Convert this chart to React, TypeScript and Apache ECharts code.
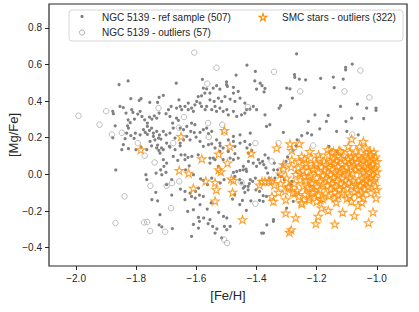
import React, { useEffect, useRef } from "react";
import * as echarts from "echarts";

const xTicks = [-2.0, -1.8, -1.6, -1.4, -1.2, -1.0];
const yTicks = [-0.4, -0.2, 0.0, 0.2, 0.4, 0.6, 0.8];
const legendLabels = [
  "NGC 5139 - ref sample (507)",
  "NGC 5139 - outliers (57)",
  "SMC stars - outliers (322)",
];
const xName = "[Fe/H]";
const yName = "[Mg/Fe]";

const refSample: number[][] = [
  [-1.857,0.49],[-1.827,0.51],[-1.667,0.498],[-1.432,0.596],[-1.404,0.562],[-1.468,0.542],[-1.5,0.505],[-1.5,0.49],[-1.58,0.518],[-1.406,0.51],[-1.388,0.498],[-1.382,0.484],[-1.372,0.469],[-1.375,0.45],[-1.4,0.466],[-1.267,0.658],[-1.274,0.544],[-1.273,0.529],[-1.258,0.52],[-1.237,0.516],[-1.187,0.524],[-1.145,0.531],[-1.112,0.52],[-1.104,0.584],[-1.104,0.571],[-1.082,0.602],[-1.142,0.473],[-1.3,0.471],[-1.289,0.467],[-1.281,0.416],[-1.32,0.375],[-1.325,0.362],[-1.121,0.371],[-1.065,0.384],[-1.034,0.362],[-1.003,0.362],[-1.003,0.349],[-1.044,0.305],[-1.084,0.307],[-1.162,0.322],[-1.206,0.325],[-1.228,0.289],[-1.19,0.249],[-1.372,0.325],[-1.367,0.262],[-1.311,0.229],[-1.25,0.211],[-1.231,0.225],[-1.265,0.189],[-1.1,0.235],[-1.062,0.216],
  [-1.818,0.413],[-1.79,0.404],[-1.784,0.413],[-1.755,0.393],[-1.724,0.42],[-1.71,0.431],[-1.658,0.407],[-1.684,0.371],[-1.729,0.393],
  [-1.854,0.371],[-1.843,0.365],[-1.878,0.344],[-1.876,0.331],[-1.834,0.335],[-1.815,0.353],[-1.811,0.338],[-1.795,0.329],[-1.787,0.344],
  [-1.806,0.302],[-1.827,0.298],[-1.82,0.282],[-1.829,0.265],[-1.781,0.316],[-1.772,0.298],[-1.763,0.28],[-1.756,0.313],[-1.748,0.302],[-1.74,0.32],
  [-1.724,0.335],[-1.732,0.307],[-1.701,0.331],[-1.693,0.353],[-1.688,0.316],[-1.666,0.307],[-1.66,0.295],[-1.679,0.28],[-1.677,0.253],
  [-1.763,0.262],[-1.756,0.24],[-1.749,0.253],[-1.776,0.244],[-1.77,0.229],[-1.763,0.218],[-1.743,0.225],[-1.732,0.235],[-1.723,0.215],
  [-1.71,0.235],[-1.701,0.216],[-1.718,0.193],[-1.738,0.189],[-1.754,0.18],[-1.749,0.156],[-1.729,0.16],[-1.716,0.144],[-1.725,0.131],
  [-1.784,0.149],[-1.801,0.135],[-1.807,0.196],[-1.826,0.253],[-1.832,0.225],[-1.837,0.195],[-1.818,0.211],[-1.843,0.162],[-1.848,0.135],
  [-1.699,0.171],[-1.688,0.149],[-1.671,0.135],[-1.654,0.156],[-1.651,0.107],[-1.677,0.098],[-1.662,0.076],[-1.638,0.08],[-1.628,0.093],
  [-1.624,0.047],[-1.636,0.025],[-1.71,0.08],[-1.699,0.062],[-1.708,0.044],[-1.701,0.011],[-1.615,0.098],[-1.594,0.107],
  [-1.654,0.253],[-1.643,0.244],[-1.632,0.262],[-1.616,0.28],[-1.605,0.271],[-1.619,0.235],[-1.607,0.228],[-1.632,0.207],[-1.621,0.189],[-1.601,0.204],[-1.588,0.229],[-1.577,0.244],[-1.566,0.253],[-1.56,0.222],[-1.549,0.235],
  [-1.599,0.398],[-1.588,0.389],[-1.594,0.425],[-1.583,0.429],[-1.572,0.444],[-1.577,0.471],[-1.566,0.467],[-1.555,0.444],[-1.544,0.471],[-1.533,0.484],[-1.522,0.465],[-1.497,0.48],[-1.477,0.475],
  [-1.616,0.362],[-1.627,0.353],[-1.61,0.344],[-1.605,0.38],[-1.583,0.371],[-1.571,0.353],[-1.566,0.371],[-1.549,0.353],[-1.538,0.371],[-1.533,0.344],[-1.522,0.362],[-1.511,0.344],[-1.499,0.353],[-1.494,0.325],[-1.477,0.344],[-1.466,0.316],[-1.45,0.325],[-1.433,0.353],[-1.439,0.335],[-1.422,0.356],[-1.411,0.371],[-1.4,0.353],
  [-1.666,0.362],[-1.654,0.371],[-1.649,0.353],[-1.638,0.371],[-1.627,0.389],
  [-1.555,0.407],[-1.541,0.398],[-1.527,0.416],[-1.516,0.398],[-1.505,0.425],[-1.488,0.411],[-1.472,0.398],[-1.455,0.416],[-1.439,0.389],[-1.477,0.444],[-1.461,0.453],
  [-1.671,0.198],[-1.643,0.189],[-1.654,0.171],[-1.588,0.18],[-1.577,0.153],[-1.56,0.162],[-1.533,0.189],[-1.522,0.171],[-1.511,0.144],[-1.522,0.126],
  [-1.494,0.189],[-1.477,0.18],[-1.472,0.153],[-1.455,0.171],[-1.439,0.18],[-1.422,0.162],
  [-1.555,0.089],[-1.538,0.08],[-1.527,0.044],[-1.477,0.08],[-1.461,0.089],[-1.444,0.044],[-1.433,0.016],[-1.427,0.071],[-1.411,0.062],[-1.4,0.044],
  [-1.45,-0.047],[-1.439,-0.065],[-1.424,-0.051],[-1.413,-0.038],
  [-1.735,-0.098],[-1.748,-0.138],[-1.729,-0.144],[-1.721,-0.22],[-1.682,-0.113],[-1.638,-0.093],[-1.653,-0.08],[-1.621,-0.102],[-1.616,-0.12],[-1.638,-0.138],[-1.604,-0.129],[-1.59,-0.113],[-1.577,-0.12],[-1.629,-0.202],[-1.61,-0.193],[-1.588,-0.165],[-1.564,-0.189],[-1.551,-0.156],[-1.526,-0.207],[-1.593,-0.235],[-1.576,-0.238],[-1.59,-0.256],[-1.555,-0.247],[-1.561,-0.269],[-1.61,-0.273],[-1.593,-0.293],[-1.546,-0.284],[-1.532,-0.298],
  [-1.507,-0.284],[-1.499,-0.302],[-1.488,-0.284],[-1.51,-0.229],[-1.499,-0.238],[-1.538,-0.32],[-1.516,-0.347],[-1.616,-0.338],[-1.724,-0.275],[-1.715,-0.287],[-1.68,-0.296],[-1.48,-0.135],[-1.473,-0.111],[-1.456,-0.165],[-1.447,-0.142],[-1.434,-0.196],[-1.419,-0.144],[-1.39,-0.142],[-1.378,-0.116],[-1.402,-0.084],[-1.39,-0.093],[-1.366,-0.275],[-1.344,-0.247],[-1.377,-0.32],[-1.444,-0.075],[-1.428,-0.084],[-1.439,-0.098],
  [-1.376,0.053],[-1.369,0.035],[-1.363,0.007],[-1.358,-0.02],[-1.352,-0.038],[-1.341,0.062],[-1.33,0.025],[-1.319,-0.011],[-1.313,0.053],[-1.302,0.071],[-1.297,0.095],[-1.28,0.131],[-1.269,0.156],[-1.308,-0.029],[-1.286,-0.056],
  [-1.477,0.011],[-1.466,0.016],[-1.455,0.022],[-1.444,0.025],[-1.435,0.029],[-1.421,-0.029],[-1.404,-0.02],[-1.456,-0.029],[-1.428,-0.065],[-1.577,-0.033],[-1.586,-0.025],[-1.549,-0.02],[-1.521,-0.047],[-1.508,-0.029],[-1.563,-0.056],[-1.593,-0.075],[-1.603,-0.093],[-1.682,-0.029],[-1.699,-0.056],[-1.734,0.007],[-1.715,-0.002],[-1.719,0.025],[-1.768,-0.002],[-1.765,-0.029],
  [-1.638,0.107],[-1.765,0.135],[-1.732,0.144],[-1.721,0.116],[-1.71,0.135],[-1.69,0.153],
  [-1.803,0.225],[-1.787,0.216],[-1.743,0.207],[-1.726,0.198],[-1.688,0.225],
  [-1.549,0.167],[-1.538,0.144],[-1.521,0.156],[-1.555,0.062],[-1.544,0.089],[-1.511,0.08],[-1.488,0.089],[-1.472,-0.011],[-1.421,0.225],[-1.432,0.144],[-1.427,0.116],[-1.416,0.131],[-1.394,0.08],[-1.389,0.062],[-1.38,0.071],[-1.477,0.207],[-1.455,0.216],[-1.494,0.125],[-1.472,0.113],[-1.61,-0.002],
  [-1.356,0.271],[-1.217,0.216],[-1.168,0.289],[-1.134,0.235],[-1.103,0.289],[-1.159,0.153],[-1.132,0.125],[-1.372,0.107],[-1.361,0.089],[-1.343,0.025],[-1.328,-0.002],[-1.339,-0.02],[-1.367,-0.12],[-1.378,-0.147],[-1.3,-0.184],[-1.278,-0.147],[-1.344,-0.256],[-1.383,-0.32],[-1.283,-0.038],
  [-1.868,0.024],[-1.826,0.14],[-1.878,0.2],[-1.87,0.265],
];

const outliers: number[][] = [
  [-1.992,0.32],[-1.922,0.271],[-1.9,0.345],[-1.881,0.218],[-1.848,0.227],[-1.876,0.811],[-1.795,0.171],[-1.772,0.102],[-1.739,0.065],[-1.753,-0.062],[-1.839,-0.12],[-1.869,-0.265],[-1.774,-0.262],[-1.764,-0.26],[-1.754,-0.309],[-1.704,-0.313],[-1.699,-0.062],[-1.681,-0.047],[-1.684,-0.184],[-1.657,-0.038],[-1.677,0.171],[-1.726,0.362],[-1.607,0.665],[-1.533,0.582],[-1.564,0.495],[-1.561,0.28],[-1.559,0.204],[-1.641,0.313],[-1.507,0.229],[-1.514,0.271],[-1.429,0.367],[-1.404,0.171],[-1.45,-0.044],[-1.404,-0.16],[-1.498,-0.375],[-1.508,-0.356],[-1.342,0.56],[-1.255,0.453],[-1.212,0.158],[-1.327,0.171],[-1.35,0.071],[-1.108,0.453],[-1.055,0.567],[-1.025,0.42],[-1.082,0.218],[-1.658,0.255],
];

const smcStars: number[][] = [
  [-1.785,0.135],[-1.651,0.207],[-1.507,0.24],[-1.582,0.085],[-1.657,0.022],[-1.626,0.007],[-1.61,-0.075],[-1.569,-0.036],[-1.538,-0.044],[-1.534,-0.084],[-1.538,-0.145],[-1.526,0.025],[-1.519,0.015],[-1.526,0.111],[-1.497,0.062],[-1.489,0.153],[-1.484,-0.025],[-1.477,-0.033],[-1.48,-0.098],[-1.447,-0.247],[-1.418,0.115],[-1.39,-0.058],[-1.382,-0.038],[-1.372,-0.038],[-1.359,-0.036],[-1.35,-0.038],[-1.341,-0.058],[-1.333,0.144],[-1.349,-0.12],[-1.344,-0.147],[-1.327,-0.098],[-1.32,0.002],[-1.311,0.053],[-1.303,-0.138],[-1.303,-0.211],[-1.292,-0.065],[-1.289,0.167],[-1.283,0.131],[-1.283,0.08],[-1.291,-0.316],[-1.285,-0.302],[-1.27,-0.236],[-1.258,0.167],[-1.25,0.098],[-1.261,0.035],[-1.256,0.007],[-1.272,-0.102],[-1.25,-0.153],[-1.223,0.125],[-1.228,-0.011],[-1.217,-0.047],[-1.203,-0.269],[-1.195,-0.229],[-1.187,-0.138],[-1.184,-0.184],[-1.194,0.107],[-1.162,-0.196],[-1.164,0.135],[-1.14,-0.271],[-1.126,0.131],[-1.114,-0.207],[-1.084,0.193],[-1.075,-0.225],[-1.063,-0.171],[-1.045,0.18],[-1.028,-0.264],[-1.013,-0.205],[-1.003,-0.129],[-1.0,-0.084],[-1.023,0.125],[-1.036,0.144],[-1.058,0.153],[-1.095,0.153],[-1.145,0.125],[-1.214,0.031],[-1.203,0.062],[-1.241,0.084],[-1.233,0.044],
  [-1.15,0.118],[-1.12,0.125],[-1.09,0.12],[-1.07,0.128],[-1.035,0.117],[-1.01,0.122],
  [-1.16,0.102],[-1.13,0.098],[-1.11,0.105],[-1.085,0.097],[-1.06,0.103],[-1.04,0.099],[-1.02,0.108],[-1.005,0.095],
  [-1.19,0.088],[-1.145,0.083],[-1.12,0.087],[-1.095,0.082],[-1.07,0.089],[-1.05,0.084],[-1.03,0.086],[-1.01,0.081],
  [-1.175,0.072],[-1.155,0.068],[-1.135,0.074],[-1.105,0.069],[-1.08,0.071],[-1.065,0.066],[-1.045,0.073],[-1.025,0.068],[-1.0,0.07],
  [-1.2,0.057],[-1.17,0.053],[-1.14,0.058],[-1.115,0.054],[-1.09,0.056],[-1.075,0.052],[-1.035,0.058],[-1.015,0.055],
  [-1.185,0.041],[-1.16,0.038],[-1.13,0.043],[-1.1,0.039],[-1.085,0.042],[-1.06,0.037],[-1.04,0.044],[-1.02,0.04],[-1.005,0.036],
  [-1.21,0.027],[-1.175,0.023],[-1.15,0.028],[-1.12,0.024],[-1.11,0.021],[-1.07,0.026],[-1.05,0.022],[-1.03,0.029],[-1.01,0.025],
  [-1.195,0.012],[-1.165,0.008],[-1.14,0.013],[-1.125,0.009],[-1.095,0.011],[-1.08,0.006],[-1.045,0.012],[-1.025,0.008],[-1.0,0.014],
  [-1.22,-0.004],[-1.18,-0.007],[-1.155,-0.002],[-1.13,-0.006],[-1.1,-0.003],[-1.035,-0.008],[-1.015,-0.004],
  [-1.2,-0.018],[-1.17,-0.022],[-1.145,-0.017],[-1.115,-0.021],[-1.09,-0.019],[-1.05,-0.023],[-1.02,-0.016],[-1.005,-0.021],
  [-1.235,-0.033],[-1.19,-0.037],[-1.16,-0.032],[-1.135,-0.038],[-1.105,-0.034],[-1.08,-0.036],[-1.06,-0.031],[-1.035,-0.039],[-1.01,-0.035],
  [-1.215,-0.048],[-1.18,-0.053],[-1.15,-0.049],[-1.12,-0.052],[-1.095,-0.047],[-1.07,-0.054],[-1.045,-0.05],[-1.025,-0.046],
  [-1.245,-0.063],[-1.2,-0.067],[-1.165,-0.062],[-1.14,-0.068],[-1.11,-0.064],[-1.085,-0.066],[-1.055,-0.061],[-1.03,-0.069],[-1.005,-0.064],
  [-1.225,-0.078],[-1.19,-0.083],[-1.155,-0.079],[-1.125,-0.082],[-1.1,-0.077],[-1.065,-0.084],[-1.04,-0.08],
  [-1.21,-0.098],[-1.17,-0.103],[-1.14,-0.099],[-1.115,-0.104],[-1.075,-0.097],[-1.05,-0.102],[-1.02,-0.1],
  [-1.195,-0.113],[-1.16,-0.118],[-1.13,-0.114],[-1.09,-0.117],[-1.06,-0.112],
  [-1.225,-0.128],[-1.18,-0.133],[-1.14,-0.129],[-1.1,-0.132],[-1.045,-0.127],
  [-1.2,-0.148],[-1.135,-0.152],[-1.085,-0.147],[-1.05,-0.153],
  [-1.3,-0.02],[-1.285,0.04],[-1.275,-0.05],[-1.265,-0.09],[-1.255,-0.03],[-1.245,0.02],[-1.24,-0.11],[-1.23,-0.07],[-1.26,-0.12],[-1.28,-0.1],[-1.295,-0.07],[-1.235,0.06],[-1.25,-0.16],[-1.225,-0.14],[-1.215,-0.1],[-1.31,0.03],[-1.32,-0.05],[-1.305,-0.09],[-1.27,0.0],[-1.26,0.07],[-1.24,-0.01],[-1.22,0.09],
];

const STAR_SYMBOL =
  "path://M50 0L61.23 34.55L97.55 34.55L68.16 55.9L79.39 90.45L50 69.1L20.61 90.45L31.84 55.9L2.45 34.55L38.77 34.55Z";
const LEGEND_STAR =
  "M4 0L4.9 2.76L7.8 2.76L5.45 4.47L6.35 7.24L4 5.53L1.65 7.24L2.55 4.47L0.2 2.76L3.1 2.76Z";

echarts.graphic.registerShape("legendStar", echarts.graphic.extendPath(LEGEND_STAR, {}));

const FONT = '"Liberation Sans", Arial, Helvetica, sans-serif';
const INK = "#262626";
const ORANGE = "#ff8c00";
const fmt = (v: number) => v.toFixed(1).replace("-", "\u2212");

export default function App() {
  const ref = useRef<HTMLDivElement>(null);
  useEffect(() => {
    if (!ref.current) return;
    const chart = echarts.init(ref.current, null, { renderer: "svg" });
    const legendText = (text: string, x: number, y: number) => ({
      type: "text",
      z: 101,
      style: { text, x, y, fill: INK, font: `10px ${FONT}`, verticalAlign: "middle", align: "left" },
    });
    chart.setOption({
      animation: false,
      backgroundColor: "#ffffff",
      grid: {
        left: 49,
        right: 12,
        top: 4,
        bottom: 46,
        show: true,
        borderColor: INK,
        borderWidth: 1.2,
        backgroundColor: "#ffffff",
        containLabel: false,
        outerBoundsMode: "none",
      },
      xAxis: {
        type: "value",
        min: -2.09,
        max: -0.9,
        name: xName,
        nameLocation: "middle",
        nameGap: 23,
        nameMoveOverlap: false,
        nameTextStyle: { fontSize: 13, color: INK, fontFamily: FONT },
        axisLine: { show: false, onZero: false },
        splitLine: { show: false },
        axisTick: { show: true, length: 4, lineStyle: { color: INK, width: 1 }, customValues: xTicks },
        axisLabel: { color: INK, fontSize: 10, fontFamily: FONT, margin: 7, customValues: xTicks, formatter: fmt },
      },
      yAxis: {
        type: "value",
        min: -0.5,
        max: 0.93,
        name: yName,
        nameLocation: "middle",
        nameGap: 29,
        nameMoveOverlap: false,
        nameTextStyle: { fontSize: 13, color: INK, fontFamily: FONT },
        axisLine: { show: false, onZero: false },
        splitLine: { show: false },
        axisTick: { show: true, length: 4, lineStyle: { color: INK, width: 1 }, customValues: yTicks },
        axisLabel: { color: INK, fontSize: 10, fontFamily: FONT, margin: 7, customValues: yTicks, formatter: fmt },
      },
      series: [
        {
          name: legendLabels[0],
          type: "scatter",
          silent: true,
          data: refSample,
          symbol: "circle",
          symbolSize: 3.2,
          itemStyle: { color: "#808080", opacity: 1 },
          z: 2,
        },
        {
          name: legendLabels[1],
          type: "scatter",
          silent: true,
          data: outliers,
          symbol: "circle",
          symbolSize: 5.5,
          itemStyle: { color: "rgba(0,0,0,0)", borderColor: "#a3a3a3", borderWidth: 0.9 },
          z: 3,
        },
        {
          name: legendLabels[2],
          type: "scatter",
          silent: true,
          data: smcStars,
          symbol: STAR_SYMBOL,
          symbolSize: [8.4, 8],
          itemStyle: { color: "rgba(255,255,255,0.35)", borderColor: ORANGE, borderWidth: 1.1 },
          z: 4,
        },
      ],
      graphic: [
        {
          type: "rect",
          z: 100,
          shape: { x: 69, y: 10, width: 334, height: 31, r: 3 },
          style: { fill: "rgba(255,255,255,0.8)", stroke: "#cccccc", lineWidth: 0.8 },
        },
        { type: "circle", z: 101, shape: { cx: 82, cy: 16.5, r: 1.6 }, style: { fill: "#808080" } },
        legendText(legendLabels[0], 102, 17),
        {
          type: "circle",
          z: 101,
          shape: { cx: 82, cy: 32.5, r: 2.6 },
          style: { fill: "none", stroke: "#a3a3a3", lineWidth: 0.9 },
        },
        legendText(legendLabels[1], 102, 32.5),
        {
          type: "legendStar",
          z: 101,
          x: 259,
          y: 13.5,
          style: { fill: "rgba(255,255,255,0.35)", stroke: ORANGE, lineWidth: 1.1 },
        },
        legendText(legendLabels[2], 282, 17),
      ],
    });
    return () => chart.dispose();
  }, []);
  return (
    <div
      ref={ref}
      style={{ position: "fixed", left: 0, top: 0, width: 419, height: 312, background: "#fff" }}
    />
  );
}
